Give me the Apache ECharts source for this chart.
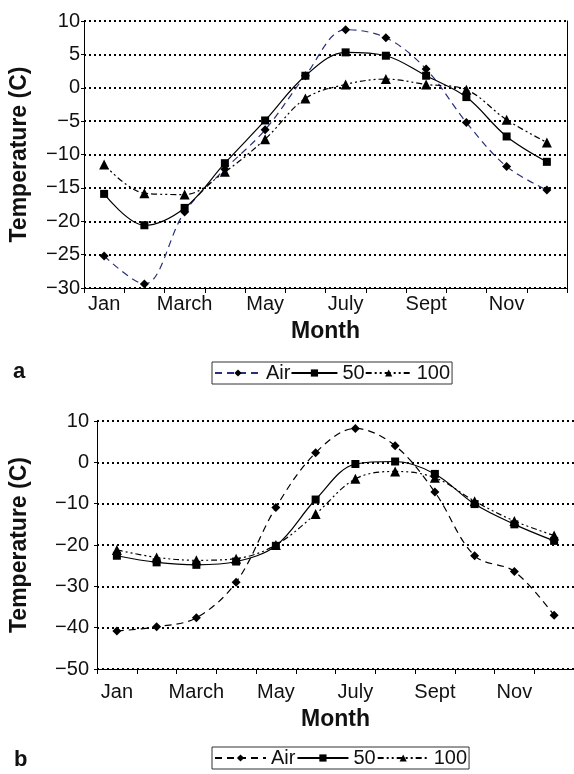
<!DOCTYPE html>
<html>
<head>
<meta charset="utf-8">
<script src="https://cdn.jsdelivr.net/npm/echarts@6/dist/echarts.min.js"></script>
<style>
  body { margin: 0; background: #fff; }
  #ca { position: absolute; left: 0; top: 0; width: 574px; height: 400px; }
  #cb { position: absolute; left: 0; top: 400px; width: 574px; height: 374px; }
</style>
</head>
<body>
<div id="ca"></div>
<div id="cb"></div>
<script>
// months on the x axis (only every other one gets a label)
const months = ['Jan', 'Feb', 'March', 'Apr', 'May', 'June', 'July', 'Aug', 'Sept', 'Oct', 'Nov', 'Dec'];
const seriesNames = ['Air', '50', '100'];

// panel a
const airA = [-25.2, -29.4, -18.6, -12.2, -6.3, 1.8, 8.7, 7.5, 2.8, -5.2, -11.8, -15.3];
const d50A = [-15.9, -20.6, -18, -11.3, -4.9, 1.8, 5.3, 4.8, 1.8, -1.4, -7.3, -11.1];
const d100A = [-11.5, -15.8, -16, -12.6, -7.7, -1.6, 0.5, 1.3, 0.5, -0.3, -4.8, -8.2];
const yTicksA = { min: -30, max: 10, interval: 5 };

// panel b
const airB = [-40.8, -39.8, -37.6, -29, -10.9, 2.3, 8.2, 4, -7.2, -22.6, -26.4, -37];
const d50B = [-22.6, -24.2, -24.8, -24, -20.2, -9, -0.4, 0.2, -2.8, -10.1, -15, -19];
const d100B = [-21.2, -23, -23.7, -23.3, -20, -12.5, -4, -2.2, -3.7, -9.4, -14.2, -17.7];
const yTicksB = { min: -50, max: 10, interval: 10 };

const FONT = 'Liberation Sans, Arial, sans-serif';
const minus = v => String(v).replace('-', '\u2212');

function makeSeries(name, data, symbol, size, lineColor, lineType) {
    return {
        name: name,
        type: 'line',
        data: data,
        smooth: 0.35,
        symbol: symbol,
        symbolSize: size,
        itemStyle: { color: '#000' },
        lineStyle: { color: lineColor, width: 1.2, type: lineType },
        z: 3
    };
}

function buildOption(p) {
    return {
        animation: false,
        textStyle: { fontFamily: FONT },
        grid: { left: p.grid.left, top: p.grid.top, right: p.grid.right, height: p.grid.height },
        legend: {
            data: seriesNames,
            left: p.legend.left,
            top: p.legend.top,
            orient: 'horizontal',
            borderColor: '#333',
            borderWidth: 1,
            borderRadius: 0,
            padding: [1, 2, 1, 2],
            itemGap: p.legend.gap,
            itemWidth: p.legend.itemWidth,
            itemHeight: 9,
            textStyle: { fontSize: 20, color: '#111', fontFamily: FONT }
        },
        xAxis: {
            type: 'category',
            data: months,
            boundaryGap: true,
            name: 'Month',
            nameLocation: 'middle',
            nameGap: p.xNameGap,
            nameTextStyle: { fontSize: 23, fontWeight: 'bold', color: '#111', fontFamily: FONT },
            axisLine: { show: true, onZero: false, lineStyle: { color: '#000', width: 1 } },
            axisTick: { show: true, interval: 0, length: 5, lineStyle: { color: '#000' } },
            axisLabel: { interval: 1, fontSize: 20, color: '#111', margin: p.xMargin, fontFamily: FONT },
            splitLine: { show: false }
        },
        yAxis: [{
            type: 'value',
            min: p.y.min,
            max: p.y.max,
            interval: p.y.interval,
            name: 'Temperature (C)',
            nameLocation: 'middle',
            nameRotate: 90,
            nameGap: p.yNameGap,
            nameTextStyle: { fontSize: 23, fontWeight: 'bold', color: '#111', fontFamily: FONT },
            axisLine: { show: true, onZero: false, lineStyle: { color: '#000', width: 1 } },
            axisTick: { show: true, length: 3, lineStyle: { color: '#000' } },
            axisLabel: { fontSize: 20, color: '#111', margin: p.yMargin, formatter: minus, fontFamily: FONT },
            splitLine: { show: true, lineStyle: { color: '#000', width: 2, type: [2, 3] } }
        }, {
            // right frame line, only panel a has one
            type: 'value',
            position: 'right',
            min: p.y.min,
            max: p.y.max,
            interval: p.y.interval,
            axisLine: { show: p.rightLine, onZero: false, lineStyle: { color: '#000', width: 1 } },
            axisTick: { show: false },
            axisLabel: { show: false },
            splitLine: { show: false }
        }],
        graphic: [{
            type: 'text',
            left: p.tag.left,
            top: p.tag.top,
            style: { text: p.tag.text, font: 'bold 22px ' + FONT, fill: '#111' }
        }],
        series: [
            makeSeries('Air', p.air, 'diamond', 9, p.airColor, [7, 5]),
            makeSeries('50', p.d50, 'rect', 8, '#000', 'solid'),
            makeSeries('100', p.d100, 'triangle', 10, '#000', [6, 3, 2, 3, 2, 3])
        ]
    };
}

let chartA = echarts.init(document.getElementById('ca'));
chartA.setOption(buildOption({
    grid: { left: 82, top: 21, right: 7, height: 267 },
    legend: { left: 212, top: 362, itemWidth: 46, gap: 0 },
    y: yTicksA,
    xNameGap: 32,
    xMargin: 6,
    yNameGap: 53,
    yMargin: 4,
    rightLine: true,
    tag: { text: 'a', left: 13, top: 361 },
    air: airA, d50: d50A, d100: d100A,
    airColor: '#27307a'
}));

let chartB = echarts.init(document.getElementById('cb'));
chartB.setOption(buildOption({
    grid: { left: 95, top: 21, right: -2, height: 248 },
    legend: { left: 212, top: 347, itemWidth: 51, gap: 1 },
    y: yTicksB,
    xNameGap: 39,
    xMargin: 13,
    yNameGap: 66,
    yMargin: 8,
    rightLine: false,
    tag: { text: 'b', left: 14, top: 349 },
    air: airB, d50: d50B, d100: d100B,
    airColor: '#000'
}));
</script>
</body>
</html>
